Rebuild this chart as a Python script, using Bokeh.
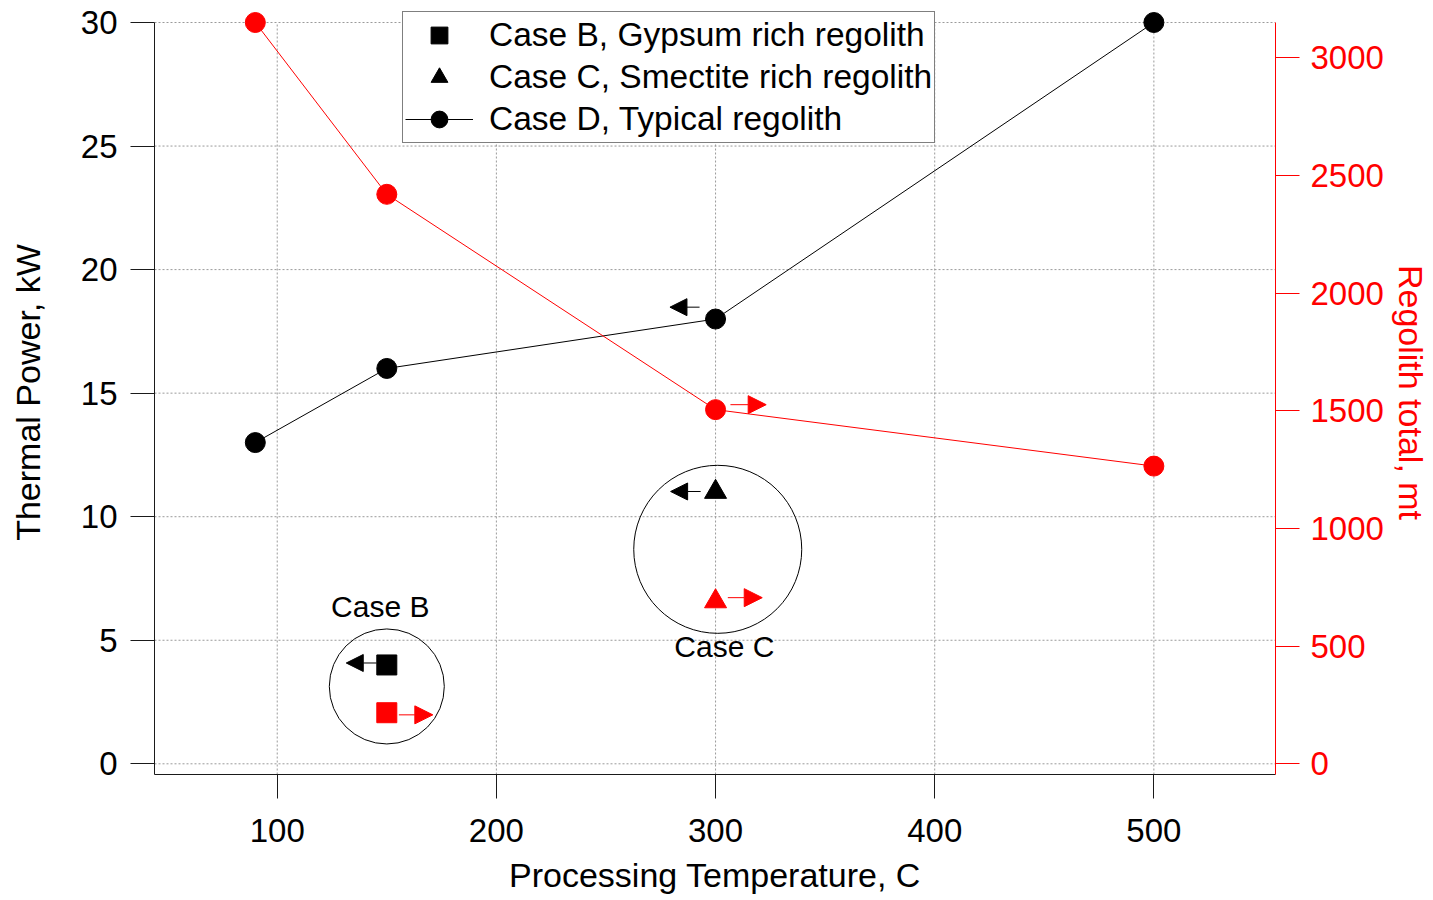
from bokeh.plotting import figure
from bokeh.models import (Range1d, LinearAxis, FixedTicker, Legend, LegendItem,
                          Arrow, NormalHead, Label)
from bokeh.embed import file_html
from bokeh.resources import INLINE

# ---------------- data ----------------
temps = [90, 150, 300, 500]
thermal_power_d = [13, 16, 18, 30]
regolith_d = [3150, 2420, 1505, 1265]

case_b_temp = [150]
case_b_power = [4]
case_b_regolith = [217]

case_c_temp = [300]
case_c_power = [11]
case_c_regolith = [690]

x_ticks = [100, 200, 300, 400, 500]
y_ticks = [0, 5, 10, 15, 20, 25, 30]
y2_ticks = [0, 500, 1000, 1500, 2000, 2500, 3000]

legend_labels = ["Case B, Gypsum rich regolith",
                 "Case C, Smectite rich regolith",
                 "Case D, Typical regolith"]
group_labels = ["Case B", "Case C"]
x_title = "Processing Temperature, C"
y_title = "Thermal Power, kW"
y2_title = "Regolith total, mt"

# ---------------- layout constants ----------------
FONT = "Liberation Sans"
X0, X1 = 44.0, 555.5
Y0, Y1 = -0.433, 30.486
K = 105.0  # right axis / left axis scale

p = figure(width=1433, height=900,
           x_range=Range1d(X0, X1), y_range=Range1d(Y0, Y1),
           output_backend="svg", toolbar_location=None,
           min_border_left=154, min_border_right=158,
           min_border_top=10, min_border_bottom=126)
p.extra_y_ranges = {"right": Range1d(Y0 * K, Y1 * K)}
p.grid.visible = False
p.outline_line_color = None
p.background_fill_color = "white"
p.border_fill_color = "white"

# grid lines (dotted)
grid_kw = dict(line_color="#9a9a9a", line_width=1, line_dash="2 2")
p.segment(x0=[X0] * len(y_ticks), y0=y_ticks, x1=[X1] * len(y_ticks), y1=y_ticks, **grid_kw)
p.segment(x0=x_ticks, y0=[Y0] * len(x_ticks), x1=x_ticks, y1=[y_ticks[-1]] * len(x_ticks), **grid_kw)

# axes
def style_axis(ax, color, tick_standoff, label_standoff):
    ax.major_tick_out = 24
    ax.major_tick_in = 0
    ax.minor_tick_out = 0
    ax.minor_tick_in = 0
    ax.axis_line_color = color
    ax.major_tick_line_color = color
    ax.axis_line_width = 1
    ax.major_tick_line_width = 1
    ax.major_label_text_font = FONT
    ax.major_label_text_font_size = "33px"
    ax.major_label_text_color = color
    ax.major_label_standoff = tick_standoff
    ax.axis_label_text_font = FONT
    ax.axis_label_text_font_size = "34px"
    ax.axis_label_text_font_style = "normal"
    ax.axis_label_text_color = color
    ax.axis_label_standoff = label_standoff

xax = p.xaxis[0]
xax.ticker = FixedTicker(ticks=x_ticks)
xax.axis_label = x_title
style_axis(xax, "#1a1a1a", 20, 11)
xax.major_label_text_color = "black"
xax.axis_label_text_color = "black"

yax = p.yaxis[0]
yax.ticker = FixedTicker(ticks=y_ticks)
yax.bounds = (Y0, y_ticks[-1])
yax.axis_label = y_title
style_axis(yax, "#1a1a1a", 13, 31)
yax.major_label_text_color = "black"
yax.axis_label_text_color = "black"

rax = LinearAxis(y_range_name="right", ticker=FixedTicker(ticks=y2_ticks),
                 bounds=(Y0 * K, y_ticks[-1] * K), axis_label=y2_title)
style_axis(rax, "red", 11, 5)
p.add_layout(rax, "right")

# Case D series
r_d_line = p.line(temps, thermal_power_d, line_color="black", line_width=1)
r_d_pts = p.scatter(temps, thermal_power_d, marker="circle", size=20, color="black")
p.line(temps, regolith_d, y_range_name="right", line_color="red", line_width=1)
p.scatter(temps, regolith_d, y_range_name="right", marker="circle", size=20, color="red")

# Case B and C
r_b = p.scatter(case_b_temp, case_b_power, marker="square", size=20, color="black")
p.scatter(case_b_temp, case_b_regolith, y_range_name="right", marker="square", size=20, color="red")
r_c = p.scatter(case_c_temp, case_c_power, marker="triangle", size=22, color="black")
p.scatter(case_c_temp, case_c_regolith, y_range_name="right", marker="triangle", size=22, color="red")

# group circles
group_x = [150, 301]
group_y = [3.13, 8.68]
group_d = [115, 168]
p.scatter(group_x, group_y, marker="circle", size=group_d, fill_color=None,
          line_color="black", line_width=1)

label_x = [147, 304]
label_y = [6.38, 4.75]
for t, lx, ly in zip(group_labels, label_x, label_y):
    p.add_layout(Label(x=lx, y=ly, text=t, text_align="center", text_baseline="alphabetic",
                       text_font=FONT, text_font_size="30px", text_color="black"))

# arrows: black point to the left axis, red to the right axis
black_arrows = [(temps[2] - 7.3, temps[2] - 20.8, thermal_power_d[2] + 0.48),
                (case_c_temp[0] - 6.8, case_c_temp[0] - 20.5, case_c_power[0] + 0.02),
                (case_b_temp[0] - 4.7, case_b_temp[0] - 18.5, case_b_power[0] + 0.08)]
red_arrows = [(temps[2] + 6.8, temps[2] + 23.1, regolith_d[2] + 21),
              (case_c_temp[0] + 5.6, case_c_temp[0] + 21.3, case_c_regolith[0] + 16),
              (case_b_temp[0] + 5.5, case_b_temp[0] + 21.0, case_b_regolith[0] - 9)]
for xs, xe, yy in black_arrows:
    p.add_layout(Arrow(end=NormalHead(size=17, fill_color="black", line_color="black"),
                       x_start=xs, x_end=xe, y_start=yy, y_end=yy,
                       line_color="black", line_width=1))
for xs, xe, yy in red_arrows:
    p.add_layout(Arrow(end=NormalHead(size=18, fill_color="red", line_color="red"),
                       x_start=xs, x_end=xe, y_start=yy, y_end=yy,
                       y_range_name="right", line_color="red", line_width=1))

# legend
legend = Legend(items=[LegendItem(label=legend_labels[0], renderers=[r_b]),
                       LegendItem(label=legend_labels[1], renderers=[r_c]),
                       LegendItem(label=legend_labels[2], renderers=[r_d_line, r_d_pts])],
                location=(248, 631), orientation="vertical",
                label_text_font=FONT, label_text_font_size="33.5px", label_text_color="black",
                glyph_height=42, glyph_width=68, label_height=42, label_standoff=16,
                spacing=0, padding=2, margin=0,
                border_line_color="black", border_line_width=1,
                background_fill_color="white", background_fill_alpha=1.0)
p.add_layout(legend)

open("out.html", "w").write(file_html(p, INLINE))
